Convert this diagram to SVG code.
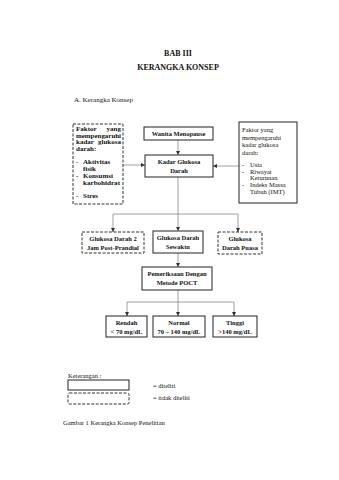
<svg xmlns="http://www.w3.org/2000/svg" width="339" height="480" viewBox="0 0 339 480">
<style>
text{font-family:"Liberation Serif","Times New Roman",serif;fill:#111}
.t{font-size:8px;font-weight:bold}
.b{font-size:6.5px;font-weight:bold}
.bl{font-size:7px;font-weight:bold}
.s{font-size:6.5px}
.c{text-anchor:middle}
.e{text-anchor:end}
.box{fill:#fff;stroke:#222;stroke-width:1}
.dash{fill:#fff;stroke:#333;stroke-width:1;stroke-dasharray:3,1.5}
.ln{fill:none;stroke:#888;stroke-width:0.8}
</style>
<defs>
<marker id="ar" markerWidth="5" markerHeight="5" refX="4" refY="2.5" orient="auto" markerUnits="userSpaceOnUse">
<path d="M0,0.5 L4,2.5 L0,4.5 z" fill="#333"/>
</marker>
</defs>
<rect width="339" height="480" fill="#fff"/>
<text class="t c" x="178" y="56">BAB III</text>
<text class="t c" x="178" y="70">KERANGKA KONSEP</text>
<text class="s" x="74" y="102" style="font-size:7px">A.  Kerangka Konsep</text>

<g id="connectors">
<line class="ln" x1="178" y1="140" x2="178" y2="155" marker-end="url(#ar)"/>
<line class="ln" x1="123" y1="165" x2="145" y2="165" marker-end="url(#ar)"/>
<line class="ln" x1="239" y1="166" x2="213" y2="166" marker-end="url(#ar)"/>
<line class="ln" x1="178" y1="177" x2="178" y2="231" marker-end="url(#ar)"/>
<polyline class="ln" points="113,232 113,214 238,214 238,232"/>
<line class="ln" x1="113" y1="228" x2="113" y2="232" marker-end="url(#ar)"/>
<line class="ln" x1="238" y1="228" x2="238" y2="232" marker-end="url(#ar)"/>
<line class="ln" x1="178" y1="253" x2="178" y2="267" marker-end="url(#ar)"/>
<line class="ln" x1="178" y1="290" x2="178" y2="316" marker-end="url(#ar)"/>
<polyline class="ln" points="127,316 127,302 234,302 234,316"/>
<line class="ln" x1="127" y1="312" x2="127" y2="316" marker-end="url(#ar)"/>
<line class="ln" x1="234" y1="312" x2="234" y2="316" marker-end="url(#ar)"/>
</g>

<g id="faktor-kiri">
<rect class="dash" x="73" y="124" width="50" height="80"/>
<text class="bl" x="76" y="131">Faktor</text><text class="bl e" x="121" y="131">yang</text>
<text class="bl" x="76" y="137.5" textLength="45" lengthAdjust="spacingAndGlyphs">mempengaruhi</text>
<text class="bl" x="76" y="144">kadar</text><text class="bl e" x="121" y="144">glukosa</text>
<text class="bl" x="76" y="150.5">darah:</text>
<text class="bl" x="76" y="164">-</text><text class="bl" x="83" y="164">Aktivitas</text>
<text class="bl" x="83" y="171">fisik</text>
<text class="bl" x="76" y="178">-</text><text class="bl" x="83" y="178">Konsumsi</text>
<text class="bl" x="83" y="185" textLength="37" lengthAdjust="spacingAndGlyphs">karbohidrat</text>
<text class="bl" x="76" y="198">-</text><text class="bl" x="83" y="198">Stres</text>
</g>

<g id="wanita-menopause">
<rect class="box" x="144" y="127" width="69" height="13"/>
<text class="b c" x="178.5" y="136">Wanita Menopause</text>
</g>

<g id="kadar-glukosa">
<rect class="box" x="145" y="155" width="68" height="22"/>
<text class="b c" x="179" y="164">Kadar Glukosa</text>
<text class="b c" x="179" y="173">Darah</text>
</g>

<g id="faktor-kanan">
<rect class="box" x="239" y="122" width="58" height="81"/>
<text class="s" x="242" y="132">Faktor yang</text>
<text class="s" x="242" y="139.5">mempengaruhi</text>
<text class="s" x="242" y="147">kadar glukosa</text>
<text class="s" x="242" y="154.5">darah:</text>
<text class="s" x="242" y="167">-</text><text class="s" x="250" y="167">Usia</text>
<text class="s" x="242" y="173.5">-</text><text class="s" x="250" y="173.5">Riwayat</text>
<text class="s" x="250" y="180">Keturunan</text>
<text class="s" x="242" y="187">-</text><text class="s" x="250" y="187">Indeks Massa</text>
<text class="s" x="250" y="194">Tubuh (IMT)</text>
</g>

<g id="gd2pp">
<rect class="dash" x="82" y="232" width="62" height="21"/>
<text class="b c" x="113" y="241">Glukosa Darah 2</text>
<text class="b c" x="113" y="249.5">Jam Post-Prandial</text>
</g>

<g id="gds">
<rect class="box" x="153" y="231" width="50" height="22"/>
<text class="b c" x="178" y="240">Glukosa Darah</text>
<text class="b c" x="178" y="249">Sewaktu</text>
</g>

<g id="gdp">
<rect class="dash" x="218" y="232" width="44" height="22"/>
<text class="b c" x="240" y="241">Glukosa</text>
<text class="b c" x="240" y="250">Darah Puasa</text>
</g>

<g id="pemeriksaan">
<rect class="box" x="142" y="267" width="70" height="23"/>
<text class="b c" x="177" y="276">Pemeriksaan Dengan</text>
<text class="b c" x="177" y="285">Metode POCT</text>
</g>

<g id="rendah">
<rect class="box" x="106" y="316" width="41" height="21"/>
<text class="b c" x="126.5" y="325">Rendah</text>
<text class="b c" x="126.5" y="333.5">&lt; 70 mg/dL</text>
</g>

<g id="normal">
<rect class="box" x="153" y="316" width="52" height="21"/>
<text class="b c" x="179" y="325">Normal</text>
<text class="b c" x="179" y="333.5">70 – 140 mg/dL</text>
</g>

<g id="tinggi">
<rect class="box" x="213" y="316" width="44" height="21"/>
<text class="b c" x="235" y="325">Tinggi</text>
<text class="b c" x="235" y="333.5">&gt;140 mg/dL</text>
</g>

<g id="legend">
<text class="s" x="68" y="378">Keterangan :</text>
<rect class="box" x="68" y="380" width="61" height="10"/>
<rect class="dash" x="68" y="393" width="61" height="11" rx="1.5"/>
<text class="s" x="153" y="387.5">= diteliti</text>
<text class="s" x="153" y="399.5">= tidak diteliti</text>
</g>
<text class="s" x="63" y="425">Gambar 1 Kerangka Konsep Penelitian</text>
</svg>
